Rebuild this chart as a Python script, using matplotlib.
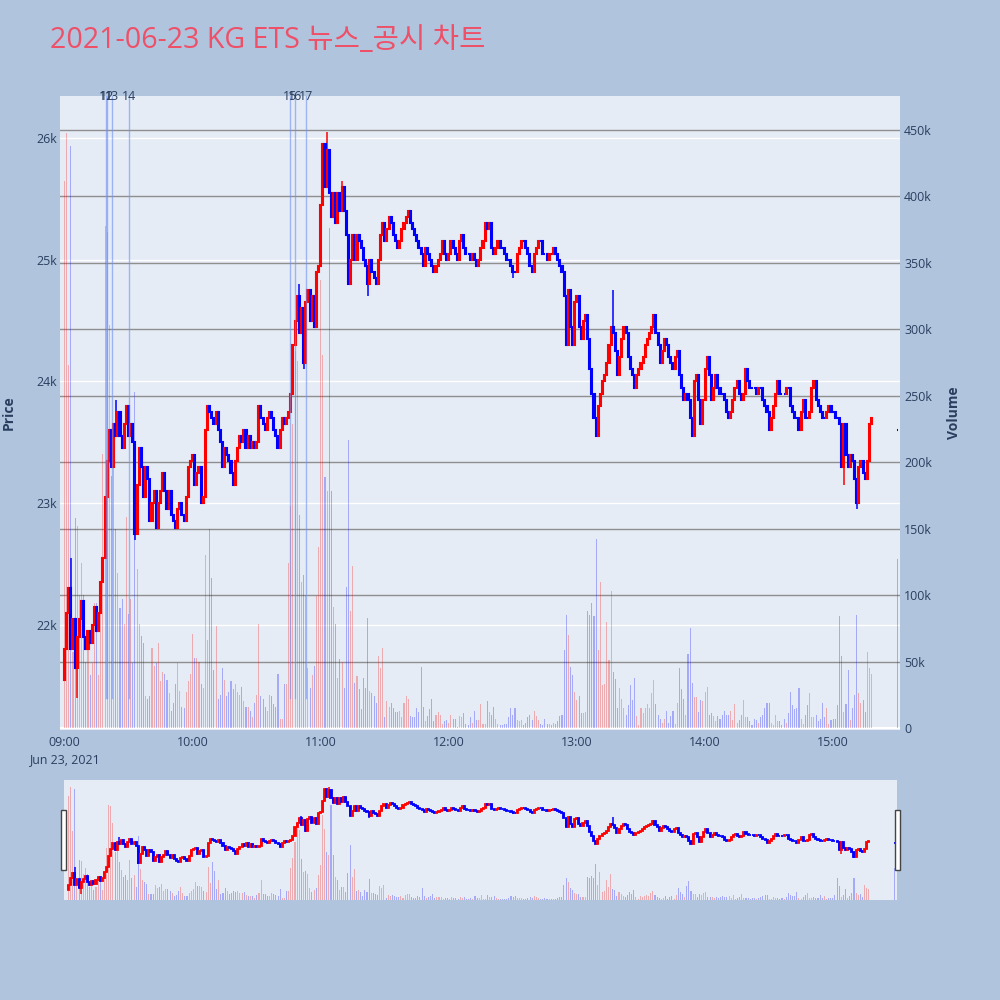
import numpy as np
import matplotlib
matplotlib.use("Agg")
import matplotlib.pyplot as plt
from matplotlib.patches import Rectangle
from matplotlib.transforms import blended_transform_factory

plt.rcParams['font.family'] = ['Open Sans', 'Noto Sans CJK KR', 'DejaVu Sans']

# ---------------- data ----------------
title = "2021-06-23 KG ETS 뉴스_공시 차트"

first_open = 21550
# 1-minute closes from 09:00 (index = minutes after 09:00)
closes = [
    21800, 22100, 22300, 21800, 22050, 21650, 21900, 22050, 22200, 21900,
    21800, 21950, 21850, 22000, 22150, 21950, 22100, 22350, 22550, 23050,
    23350, 23600, 23300, 23650, 23550, 23750, 23550, 23450, 23650, 23800,
    23550, 23650, 23500, 22750, 23150, 23450, 23300, 23050, 23300, 23200,
    22850, 23000, 23100, 22800, 23000, 23100, 23250, 23100, 22950, 23100,
    22900, 22850, 22800, 22950, 23000, 22900, 22850, 23050, 23300, 23350,
    23400, 23150, 23250, 23300, 23000, 23050, 23600, 23800, 23750, 23700,
    23650, 23750, 23600, 23500, 23300, 23450, 23400, 23350, 23250, 23150,
    23350, 23450, 23550, 23500, 23600, 23450, 23550, 23450, 23500, 23450,
    23500, 23800, 23700, 23650, 23600, 23700, 23750, 23700, 23600, 23550,
    23450, 23600, 23700, 23650, 23700, 23750, 23900, 24300, 24500, 24700,
    24400, 24600, 24150, 24650, 24750, 24500, 24700, 24450, 24900, 24950,
    25450, 25950, 25600, 25900, 25550, 25350, 25550, 25300, 25550, 25400,
    25600, 25400, 25200, 24800, 25000, 25200, 25000, 25200, 25150, 25100,
    25000, 24950, 24800, 25000, 24900, 24850, 24800, 25000, 25200, 25300,
    25150, 25250, 25350, 25300, 25200, 25150, 25100, 25150, 25250, 25300,
    25350, 25400, 25300, 25250, 25200, 25150, 25100, 25050, 24950, 25100,
    25050, 25000, 24950, 24900, 24950, 25000, 25050, 25150, 25050, 25000,
    25050, 25150, 25100, 25050, 25000, 25150, 25200, 25100, 25050, 25050,
    25000, 25050, 25000, 24950, 25000, 25100, 25150, 25300, 25250, 25300,
    25100, 25050, 25100, 25150, 25100, 25100, 25050, 25000, 25000, 24950,
    24900, 24900, 25050, 25100, 25150, 25150, 25100, 25050, 24950, 24900,
    25050, 25100, 25150, 25150, 25050, 25050, 25000, 25050, 25050, 25100,
    25050, 25000, 24950, 24900, 24700, 24300, 24750, 24450, 24300, 24650,
    24700, 24450, 24350, 24500, 24550, 24350, 24100, 23900, 23700, 23550,
    23800, 23900, 24000, 24050, 24150, 24300, 24450, 24400, 24250, 24050,
    24200, 24350, 24450, 24400, 24200, 24100, 24050, 23950, 24050, 24100,
    24150, 24200, 24300, 24350, 24400, 24450, 24550, 24400, 24300, 24150,
    24250, 24350, 24300, 24200, 24150, 24100, 24200, 24250, 24050, 23950,
    23850, 23900, 23850, 23700, 23550, 24000, 24050, 23850, 23650, 23850,
    24100, 24200, 24050, 23850, 23950, 24050, 23950, 23900, 23900, 23850,
    23750, 23700, 23750, 23850, 23950, 24000, 23900, 23850, 23900, 24100,
    24000, 23950, 23950, 23950, 23900, 23950, 23950, 23850, 23800, 23750,
    23600, 23700, 23800, 23900, 24000, 23900, 23900, 23900, 23950, 23950,
    23800, 23750, 23700, 23700, 23600, 23750, 23850, 23700, 23700, 23750,
    23950, 24000, 23850, 23800, 23750, 23700, 23700, 23750, 23800, 23750,
    23750, 23700, 23700, 23650, 23300, 23650, 23400, 23300, 23400, 23350,
    23200, 23000, 23300, 23350, 23250, 23200, 23350, 23650, 23700,
]
# volume per minute, thousands of shares
volumes_k = [
    412, 448, 273, 438, 57, 158, 152, 100, 124, 100,
    50, 69, 40, 49, 94, 94, 40, 110, 206, 378,
    373, 303, 190, 198, 150, 117, 90, 97, 78, 159,
    86, 97, 49, 253, 120, 78, 69, 64, 24, 22,
    24, 60, 47, 49, 64, 35, 42, 41, 36, 26,
    13, 19, 33, 49, 28, 16, 15, 27, 35, 41,
    71, 53, 53, 50, 33, 30, 130, 66, 150, 113,
    44, 77, 22, 25, 45, 36, 24, 27, 35, 29,
    33, 27, 25, 31, 20, 16, 16, 13, 8, 19,
    25, 78, 24, 22, 16, 13, 25, 24, 18, 16,
    41, 7, 7, 33, 33, 124, 167, 229, 284, 276,
    160, 110, 115, 100, 45, 30, 40, 47, 99, 136,
    337, 281, 189, 178, 376, 178, 91, 78, 38, 52,
    50, 30, 106, 217, 88, 122, 34, 39, 29, 14,
    38, 30, 83, 28, 26, 24, 19, 54, 45, 60,
    8, 20, 16, 19, 15, 12, 12, 13, 8, 19,
    24, 22, 9, 8, 8, 15, 12, 46, 16, 5,
    9, 14, 22, 5, 10, 12, 10, 3, 5, 6,
    4, 10, 7, 7, 1, 9, 8, 11, 3, 2,
    8, 4, 13, 6, 6, 18, 3, 3, 20, 12,
    10, 16, 7, 3, 2, 2, 3, 3, 8, 15,
    10, 15, 6, 5, 6, 2, 4, 8, 10, 6,
    13, 9, 6, 3, 2, 7, 3, 3, 2, 4,
    3, 5, 9, 10, 59, 85, 70, 46, 40, 27,
    21, 24, 11, 11, 12, 88, 85, 94, 84, 142,
    59, 110, 32, 33, 80, 51, 103, 42, 37, 15,
    30, 22, 15, 10, 17, 32, 21, 38, 9, 2,
    15, 11, 15, 18, 15, 26, 36, 18, 10, 7,
    4, 7, 13, 4, 9, 13, 3, 19, 45, 29,
    22, 10, 56, 75, 34, 23, 23, 12, 21, 20,
    27, 31, 10, 11, 9, 5, 9, 7, 10, 13,
    10, 10, 13, 6, 18, 4, 6, 10, 21, 8,
    8, 5, 2, 7, 6, 4, 8, 10, 15, 19,
    19, 4, 2, 10, 5, 5, 2, 7, 4, 11,
    27, 17, 14, 15, 30, 7, 3, 10, 17, 26,
    8, 8, 10, 5, 7, 19, 8, 15, 3, 6,
    7, 7, 17, 84, 54, 12, 18, 44, 6, 15,
    25, 85, 26, 19, 21, 12, 57, 45, 41,
]
# closing single-price auction at 15:30
close_1530 = 23600
volume_1530_k = 127

# visible wick extremes beyond the bodies (minute index -> price)
wick_high = {3: 22550, 24: 23850, 110: 24800, 123: 26050, 130: 25650,
             257: 24750, 276: 24550}
wick_low = {6: 21400, 33: 22700, 112: 24100, 142: 24700, 210: 24850,
            365: 23150, 371: 22950}

news_labels = ['11', '12', '13', '14', '15', '16', '17']
news_times = ['09:19:25', '09:19:50', '09:22:25', '09:30:25',
              '10:45:30', '10:48:05', '10:53:05']
news_line_bottom = 21400

price_ticks = [22000, 23000, 24000, 25000, 26000]
price_tick_labels = ['22k', '23k', '24k', '25k', '26k']
volume_ticks = [0, 50000, 100000, 150000, 200000, 250000, 300000, 350000, 400000, 450000]
volume_tick_labels = ['0', '50k', '100k', '150k', '200k', '250k', '300k', '350k', '400k', '450k']
time_tick_labels = ['09:00\nJun 23, 2021', '10:00', '11:00', '12:00', '13:00', '14:00', '15:00']
time_tick_minutes = [0, 60, 120, 180, 240, 300, 360]

price_range = (21137, 26345)
volume_range = (-1500, 475600)
minute_range = (-2.1, 391.3)

# ---------------- derived ----------------
n = min(len(closes), len(volumes_k))
t = np.append(np.arange(n, dtype=float), 390.0)
c = np.array(closes[:n] + [close_1530], dtype=float)
o = np.array([first_open] + closes[:n - 1] + [close_1530], dtype=float)
hi = np.maximum(o, c)
lo = np.minimum(o, c)
for k, v in wick_high.items():
    hi[k] = max(hi[k], v)
for k, v in wick_low.items():
    lo[k] = min(lo[k], v)
up = c > o
RED, BLUE = '#FF0000', '#0000FF'
col = np.where(up, RED, BLUE)
vol = np.array(volumes_k[:n] + [volume_1530_k], dtype=float) * 1000


def to_min(s):
    h, m, sec = [int(x) for x in s.split(':')]
    return (h - 9) * 60 + m + sec / 60.0


news_x = [to_min(s) for s in news_times]

BG = '#B0C4DE'
PLOT_BG = '#E5ECF6'
TXT = '#2a3f5f'

fig = plt.figure(figsize=(10, 10), dpi=100, facecolor=BG)


def draw(ax, ax2, main=True):
    ax.set_facecolor(PLOT_BG)
    ax2.patch.set_visible(False)
    ax.set_xlim(*minute_range)
    ax.set_ylim(*price_range)
    ax2.set_ylim(*volume_range)
    for a in (ax, ax2):
        for s in a.spines.values():
            s.set_visible(False)
    if main:
        ax.set_axisbelow(True)
        ax.grid(axis='y', color='white', lw=1.0, zorder=0.5)
        ax.grid(axis='x', visible=False)
        tr = blended_transform_factory(ax.transAxes, ax2.transData)
        for v in volume_ticks[1:]:
            ax.plot([0, 1], [v, v], transform=tr, color='#8f8f8f', lw=1.0, zorder=1)
        ax2.axhline(0, color='white', lw=1.5, zorder=0.5)
    lw_body = 1.5 if main else 1.3
    # candles
    ax.vlines(t, lo, hi, colors=col, lw=1.1, zorder=3)
    ax.bar(t, c - o, bottom=o, width=0.5, color=col, edgecolor=col,
           linewidth=lw_body, zorder=3)
    # volume
    ax2.bar(t, vol, width=0.5, color=col, alpha=0.28, linewidth=0, zorder=2)


ax = fig.add_axes([0.06, 0.27, 0.84, 0.634])
ax2 = ax.twinx()
draw(ax, ax2, main=True)

ax.set_yticks(price_ticks)
ax.set_yticklabels(price_tick_labels)
ax.tick_params(axis='y', length=0, pad=2, labelsize=8.9, labelcolor=TXT)
ax2.set_yticks(volume_ticks)
ax2.set_yticklabels(volume_tick_labels)
ax2.tick_params(axis='y', length=0, pad=3, labelsize=8.9, labelcolor=TXT)
ax.set_xticks(time_tick_minutes)
ax.set_xticklabels(time_tick_labels, linespacing=1.5)
ax.tick_params(axis='x', length=0, pad=4, labelsize=8.9, labelcolor=TXT)

# news markers
for lab, x in zip(news_labels, news_x):
    ax2.plot([x, x], [news_line_bottom, price_range[1]], transform=ax.transData,
             color='#6f8ff0', alpha=0.6, lw=1.0, zorder=5)
    ax2.text(x, 1.0, lab, transform=blended_transform_factory(ax.transData, ax.transAxes),
             ha='center', va='center', fontsize=8.9, color=TXT, zorder=6)

# range slider
sl = fig.add_axes([0.064, 0.10, 0.833, 0.12])
sl2 = sl.twinx()
draw(sl, sl2, main=False)
for a in (sl, sl2):
    a.set_xticks([])
    a.set_yticks([])
for xh in (0.061, 0.895):
    fig.patches.append(Rectangle((xh, 0.13), 0.0045, 0.06, transform=fig.transFigure,
                                 facecolor='white', edgecolor='#444444', lw=1.0, zorder=10))

# titles
fig.text(0.05, 0.96, title, color='#EE5068', fontsize=20.6, ha='left', va='center')
fig.text(0.009, 0.587, 'Price', rotation=90, ha='center', va='center',
         fontsize=10, fontweight='bold', color=TXT)
fig.text(0.954, 0.587, 'Volume', rotation=90, ha='center', va='center',
         fontsize=10, fontweight='bold', color=TXT)

fig.savefig('out.png', dpi=100, facecolor=BG)
